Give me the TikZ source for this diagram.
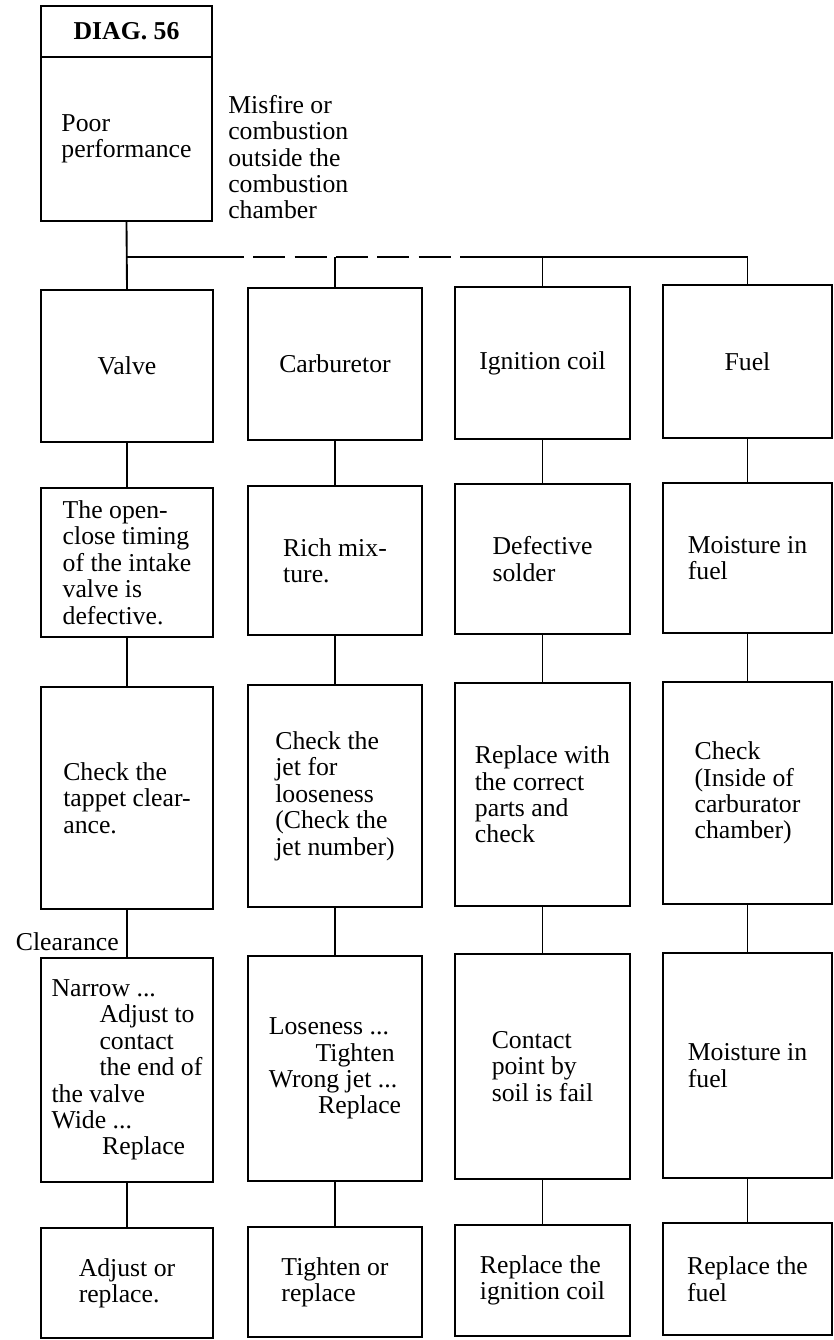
\documentclass[tikz,border=0pt]{standalone}
\usepackage{fontspec}
\setmainfont{Liberation Serif}
\tikzset{
  box/.style={draw, line width=1.4pt, inner sep=0pt, align=left},
  conn/.style={line width=1.4pt},
  every node/.append style={font=\fontsize{19.3}{19.8}\selectfont},
}
\newcommand\bx[6]{\node[box, minimum width={(#3-#1)*0.75pt}, minimum height={(#4-#2)*0.75pt}] (#5) at ({(#1+#3)/2},{(#2+#4)/2}) {#6};}
\begin{document}
\begin{tikzpicture}[x=0.75pt,y=-0.75pt]
\useasboundingbox (0,0) rectangle (834,1340);
% header
\bx{41}{6}{212}{57}{title}{\textbf{DIAG. 56}}
\bx{41}{57}{212}{221}{top}{Poor\\performance}
\node[anchor=north west, inner sep=0pt, align=left] (mis) at (228,95) {Misfire or\\combustion\\outside the\\combustion\\chamber};
% column 1
\bx{41}{290}{213}{442}{a1}{Valve}
\bx{41}{488}{213}{637}{a2}{The open-\\close timing\\of the intake\\valve is\\defective.}
\bx{41}{687}{213}{909}{a3}{Check the\\tappet clear-\\ance.}
\bx{41}{958}{213}{1182}{a4}{Narrow ...\\\hspace*{36pt}Adjust to\\\hspace*{36pt}contact\\\hspace*{36pt}the end of\\the valve\\Wide ...\\\hspace*{38pt}Replace}
\bx{41}{1228}{213}{1338}{a5}{Adjust or\\replace.}
% column 2
\bx{248}{288}{422}{440}{b1}{Carburetor}
\bx{248}{486}{422}{635}{b2}{Rich mix-\\ture.}
\bx{248}{685}{422}{907}{b3}{Check the\\jet for\\looseness\\(Check the\\jet number)}
\bx{248}{956}{422}{1181}{b4}{Loseness ...\\\hspace*{35pt}Tighten\\Wrong jet ...\\\hspace*{37pt}Replace}
\bx{248}{1227}{422}{1337}{b5}{Tighten or\\replace}
% column 3
\bx{455}{287}{630}{439}{c1}{Ignition coil}
\bx{455}{484}{630}{634}{c2}{Defective\\solder}
\bx{455}{683}{630}{906}{c3}{Replace with\\the correct\\parts and\\check}
\bx{455}{954}{630}{1179}{c4}{Contact\\point by\\soil is fail}
\bx{455}{1225}{630}{1336}{c5}{Replace the\\ignition coil}
% column 4
\bx{663}{285}{832}{438}{d1}{Fuel}
\bx{663}{483}{832}{633}{d2}{Moisture in\\fuel}
\bx{663}{682}{832}{904}{d3}{Check\\(Inside of\\carburator\\chamber)}
\bx{663}{953}{832}{1178}{d4}{Moisture in\\fuel}
\bx{663}{1223}{832}{1335}{d5}{Replace the\\fuel}
% label
\node[anchor=base east, inner sep=0pt] (clr) at (119,950) {Clearance};
% bus
\coordinate (bus1) at (top.south |- 0,257);
\coordinate (busm1) at (212,257);
\coordinate (busm2) at (480,257);
\coordinate (bus2) at (b1.north |- 0,257);
\coordinate (bus3) at (c1.north |- 0,257);
\coordinate (bus4) at (d1.north |- 0,257);
\draw[conn] (top.south) -- (a1.north);
\draw[conn] (bus1) -- (busm1);
\draw[conn, dash pattern=on 24pt off 7pt] (busm1) -- (busm2);
\draw[conn] (busm2) -- (bus4);
\draw[conn] (bus2) -- (b1.north);
\draw[conn] (bus3) -- (c1.north);
\draw[conn] (bus4) -- (d1.north);
% vertical connectors
\foreach \c in {a,b,c,d}{
  \draw[conn] (\c1.south) -- (\c2.north);
  \draw[conn] (\c2.south) -- (\c3.north);
  \draw[conn] (\c3.south) -- (\c4.north);
  \draw[conn] (\c4.south) -- (\c5.north);
}
\end{tikzpicture}
\end{document}
